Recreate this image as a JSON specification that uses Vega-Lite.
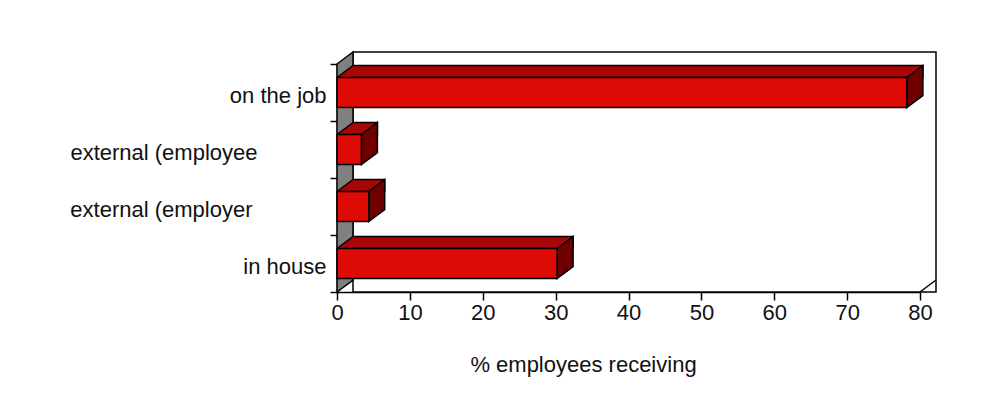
{
  "$schema": "https://vega.github.io/schema/vega-lite/v6.json",
  "width": 583,
  "height": 228,
  "autosize": {"type": "none"},
  "padding": {"left": 337, "top": 64, "right": 65, "bottom": 123},
  "background": "white",
  "config": {
    "view": {"stroke": null},
    "font": "Liberation Sans",
    "axisX": {
      "grid": false, "domainColor": "black", "domainWidth": 1.5, "tickColor": "black", "tickWidth": 1.5,
      "tickSize": 8, "labelPadding": 2, "labelFontSize": 22, "labelColor": "#111", "labelFlush": false,
      "labelOverlap": false,
      "titleFontSize": 22, "titleFontWeight": "normal", "titleColor": "#111",
      "titleX": 246, "titleY": 79, "titleBaseline": "alphabetic", "titleAlign": "center"
    },
    "axisY": {
      "grid": false, "domainColor": "black", "domainWidth": 1.5, "tickColor": "black", "tickWidth": 1.5,
      "tickSize": 7, "tickBand": "extent", "labelOffset": 3, "labelFontSize": 22,
      "labelColor": "#111", "labelLimit": 0
    }
  },
  "data": {"values": [
    {"method": "on the job", "pct": 78.2},
    {"method": "external (employee", "pct": 3.35},
    {"method": "external (employer", "pct": 4.35},
    {"method": "in house", "pct": 30.2}
  ]},
  "layer": [
    {
      "data": {"values": [{"part": "back wall"}]},
      "mark": {"type": "rect", "fill": "white", "stroke": "black", "strokeWidth": 1.5, "xOffset": 16, "x2Offset": 16, "yOffset": -12, "y2Offset": -12},
      "encoding": {
        "x": {"datum": 0, "type": "quantitative", "scale": {"domain": [0, 80], "nice": false}, "title": "% employees receiving", "axis": {"values": [0, 10, 20, 30, 40, 50, 60, 70, 80]}},
        "x2": {"datum": 80}
      }
    },
    {
      "data": {"values": [{"part": "side wall"}]},
      "mark": {"type": "point", "shape": "M0,114 L0,-114 L16,-126 L16,102 Z", "size": 4, "filled": true, "fill": "#808080", "stroke": "black", "strokeWidth": 1.5, "opacity": 1},
      "encoding": {
        "x": {"datum": 0, "type": "quantitative", "scale": {"domain": [0, 80], "nice": false}, "title": "% employees receiving", "axis": {"values": [0, 10, 20, 30, 40, 50, 60, 70, 80]}}
      }
    },
    {
      "data": {"values": [{"part": "floor edge"}]},
      "mark": {"type": "point", "shape": "M0,114 L16,102", "size": 4, "filled": false, "stroke": "black", "strokeWidth": 1.5, "opacity": 1},
      "encoding": {
        "x": {"datum": 80, "type": "quantitative", "scale": {"domain": [0, 80], "nice": false}, "title": "% employees receiving", "axis": {"values": [0, 10, 20, 30, 40, 50, 60, 70, 80]}}
      }
    },
    {
      "mark": {"type": "bar", "size": 12, "yOffset": -21, "xOffset": 16, "x2Offset": 16, "fill": "#A80606", "stroke": "black", "strokeWidth": 1.5},
      "encoding": {
        "x": {"field": "pct", "type": "quantitative", "scale": {"domain": [0, 80], "nice": false}, "title": "% employees receiving", "axis": {"values": [0, 10, 20, 30, 40, 50, 60, 70, 80]}},
        "y": {"field": "method", "type": "nominal", "sort": null, "scale": {"paddingInner": 0, "paddingOuter": 0}, "title": null,
              "axis": {"labelPadding": {"condition": [{"test": "datum.value == 'external (employee'", "value": 73}, {"test": "datum.value == 'external (employer'", "value": 78}], "value": 4}}}
      }
    },
    {
      "mark": {"type": "point", "shape": "M0,-15 L16,-27 L17.5,-27 L17.5,-15 Z", "size": 4, "filled": true, "fill": "#A80606", "strokeWidth": 0, "opacity": 1},
      "encoding": {
        "x": {"datum": 0, "type": "quantitative", "scale": {"domain": [0, 80], "nice": false}, "title": "% employees receiving", "axis": {"values": [0, 10, 20, 30, 40, 50, 60, 70, 80]}},
        "y": {"field": "method", "type": "nominal", "sort": null, "title": null,
              "axis": {"labelPadding": {"condition": [{"test": "datum.value == 'external (employee'", "value": 73}, {"test": "datum.value == 'external (employer'", "value": 78}], "value": 4}}}
      }
    },
    {
      "mark": {"type": "point", "shape": "M0,-15 L16,-27", "size": 4, "filled": false, "stroke": "black", "strokeWidth": 1.5, "opacity": 1},
      "encoding": {
        "x": {"datum": 0, "type": "quantitative", "scale": {"domain": [0, 80], "nice": false}, "title": "% employees receiving", "axis": {"values": [0, 10, 20, 30, 40, 50, 60, 70, 80]}},
        "y": {"field": "method", "type": "nominal", "sort": null, "title": null,
              "axis": {"labelPadding": {"condition": [{"test": "datum.value == 'external (employee'", "value": 73}, {"test": "datum.value == 'external (employer'", "value": 78}], "value": 4}}}
      }
    },
    {
      "mark": {"type": "point", "shape": "M0,-15 L16,-27 L16,3 L0,15 Z", "size": 4, "filled": true, "fill": "#6E0000", "stroke": "black", "strokeWidth": 1.5, "opacity": 1},
      "encoding": {
        "x": {"field": "pct", "type": "quantitative", "scale": {"domain": [0, 80], "nice": false}, "title": "% employees receiving", "axis": {"values": [0, 10, 20, 30, 40, 50, 60, 70, 80]}},
        "y": {"field": "method", "type": "nominal", "sort": null, "title": null,
              "axis": {"labelPadding": {"condition": [{"test": "datum.value == 'external (employee'", "value": 73}, {"test": "datum.value == 'external (employer'", "value": 78}], "value": 4}}}
      }
    },
    {
      "mark": {"type": "bar", "size": 30, "fill": "#DE0A06", "stroke": "black", "strokeWidth": 1.5},
      "encoding": {
        "x": {"field": "pct", "type": "quantitative", "scale": {"domain": [0, 80], "nice": false}, "title": "% employees receiving", "axis": {"values": [0, 10, 20, 30, 40, 50, 60, 70, 80]}},
        "y": {"field": "method", "type": "nominal", "sort": null, "title": null,
              "axis": {"labelPadding": {"condition": [{"test": "datum.value == 'external (employee'", "value": 73}, {"test": "datum.value == 'external (employer'", "value": 78}], "value": 4}}}
      }
    }
  ]
}
